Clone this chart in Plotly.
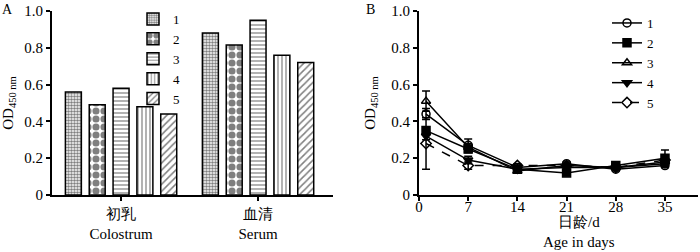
import plotly.graph_objects as go

# Panel A data
categories = ["初乳<br>Colostrum", "血清<br>Serum"]
cat_pos = [0, 1]
bar_names = ["1", "2", "3", "4", "5"]
bar_values = [
    [0.56, 0.88],
    [0.49, 0.815],
    [0.58, 0.95],
    [0.48, 0.76],
    [0.44, 0.72],
]
bar_patterns = [
    dict(shape=".", size=3, solidity=0.55),
    dict(shape=".", size=8, solidity=0.62),
    dict(shape="-", size=4, solidity=0.3),
    dict(shape="|", size=4, solidity=0.3),
    dict(shape="/", size=5, solidity=0.3),
]

# Panel B data
days = [1, 7, 14, 21, 28, 35]
line_names = ["1", "2", "3", "4", "5"]
line_values = [
    [0.44, 0.27, 0.15, 0.17, 0.14, 0.16],
    [0.35, 0.25, 0.14, 0.12, 0.16, 0.20],
    [0.51, 0.26, 0.13, 0.16, 0.15, 0.18],
    [0.32, 0.19, 0.14, 0.15, 0.15, 0.17],
    [0.28, 0.16, 0.16, 0.16, 0.15, 0.19],
]
line_errors = [
    [0.03, 0.035, 0.01, 0.01, 0.01, 0.01],
    [0.02, 0.02, 0.01, 0.01, 0.01, 0.045],
    [0.055, 0.02, 0.01, 0.01, 0.01, 0.02],
    [0.02, 0.02, 0.01, 0.01, 0.01, 0.01],
    [0.14, 0.02, 0.01, 0.01, 0.01, 0.02],
]
line_symbols = ["circle-open", "square", "triangle-up-open", "triangle-down", "diamond-open"]
line_dash = ["solid", "solid", "solid", "solid", "dash"]
x_ticks = [0, 7, 14, 21, 28, 35]
y_ticks = [0, 0.2, 0.4, 0.6, 0.8, 1.0]
y_ticktext = ["0", "0.2", "0.4", "0.6", "0.8", "1.0"]

FONT = "Liberation Serif"
fig = go.Figure()

for name, vals, pat in zip(bar_names, bar_values, bar_patterns):
    fig.add_trace(go.Bar(
        x=cat_pos, y=vals, name=name, xaxis="x", yaxis="y", legend="legend",
        marker=dict(color="white", line=dict(color="black", width=1.5),
                    pattern=dict(fgcolor="black", bgcolor="white", **pat)),
    ))

for name, vals, errs, sym, dash in zip(line_names, line_values, line_errors, line_symbols, line_dash):
    fig.add_trace(go.Scatter(
        x=days, y=vals, name=name, xaxis="x2", yaxis="y2", legend="legend2",
        mode="lines+markers",
        line=dict(color="black", width=1.5, dash=dash),
        marker=dict(symbol=sym, size=8, color="black",
                    line=dict(color="black", width=1.5)),
        error_y=dict(type="data", array=errs, color="black", thickness=1.5, width=4),
    ))

axis_common = dict(showline=True, linecolor="black", linewidth=2, ticks="outside",
                   tickcolor="black", tickwidth=2, ticklen=4, showgrid=False,
                   zeroline=False, automargin=False,
                   tickfont=dict(family=FONT, size=15, color="black"))

fig.update_layout(
    width=700, height=252,
    margin=dict(l=0, r=0, t=0, b=0, autoexpand=False),
    paper_bgcolor="white", plot_bgcolor="white",
    font=dict(family=FONT, size=15, color="black"),
    barmode="group", bargap=0.13, bargroupgap=0.33,
    xaxis=dict(domain=[52/700, 333/700], range=[-0.504, 1.547],
               tickvals=cat_pos, ticktext=categories, anchor="y", **axis_common),
    yaxis=dict(domain=[1-195/252, 1-11/252], range=[0, 1.0],
               tickvals=y_ticks, ticktext=y_ticktext, anchor="x",
               title=dict(text="OD<sub>450 nm</sub>", standoff=12,
                          font=dict(family=FONT, size=15)), **axis_common),
    xaxis2=dict(domain=[419/700, 698/700], range=[0, 39.7],
                tickvals=x_ticks, anchor="y2", ticklabelstandoff=-7, **axis_common),
    yaxis2=dict(domain=[1-195/252, 1-11/252], range=[0, 1.0],
                tickvals=y_ticks, ticktext=y_ticktext, anchor="x2",
                title=dict(text="OD<sub>450 nm</sub>", standoff=12,
                           font=dict(family=FONT, size=15)), **axis_common),
    legend=dict(x=133/700, y=1-4/252, xanchor="left", yanchor="top",
                bgcolor="rgba(0,0,0,0)", font=dict(family=FONT, size=13),
                tracegroupgap=0, itemwidth=30),
    legend2=dict(x=607/700, y=1-8/252, xanchor="left", yanchor="top",
                 bgcolor="rgba(0,0,0,0)", font=dict(family=FONT, size=13),
                 tracegroupgap=0, itemwidth=30),
    annotations=[
        dict(text="A", x=0, y=1, xref="paper", yref="paper", xanchor="left",
             yanchor="top", showarrow=False, font=dict(family=FONT, size=14)),
        dict(text="B", x=364/700, y=1, xref="paper", yref="paper", xanchor="left",
             yanchor="top", showarrow=False, font=dict(family=FONT, size=14)),
        dict(text="日龄/d", x=(419 + 160) / 700, y=1-222/252, xref="paper", yref="paper",
             xanchor="center", yanchor="middle", showarrow=False,
             font=dict(family=FONT, size=15)),
        dict(text="Age in days", x=(419 + 160) / 700, y=1-242/252, xref="paper", yref="paper",
             xanchor="center", yanchor="middle", showarrow=False,
             font=dict(family=FONT, size=15)),
    ],
)

fig.write_html("out.html",
               config={"displayModeBar": False},
               post_script="document.body.style.margin='0';document.body.style.overflow='hidden';")
